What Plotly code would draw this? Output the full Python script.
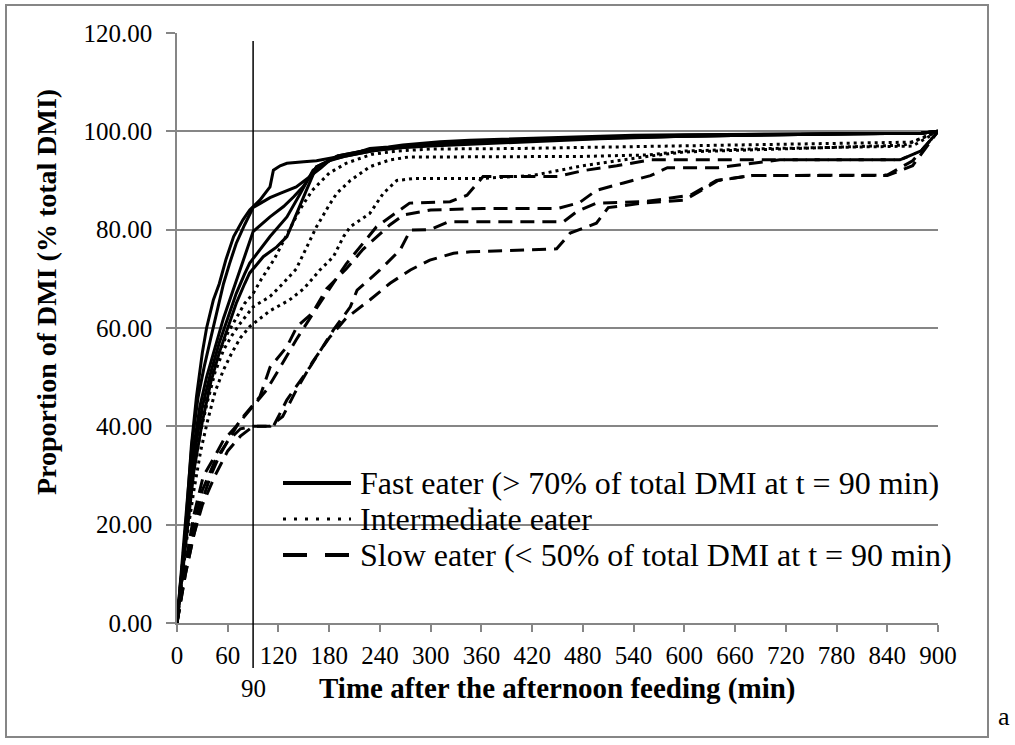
import plotly.graph_objects as go

# ---------------- data ----------------
x_ticks = list(range(0, 901, 60))
y_ticks = [0, 20, 40, 60, 80, 100, 120]
threshold_t = 90

group_names = ["Fast eater (> 70% of total DMI at t = 90 min)",
               "Intermediate eater",
               "Slow eater (< 50% of total DMI at t = 90 min)"]

# Fast eaters (solid)
fast1_t = [0, 4, 8, 12, 17, 23, 30, 35, 43, 50, 58, 67, 78, 86, 98, 110, 114, 122, 130, 150, 165, 189, 210, 228, 250, 267, 290, 311, 346, 400, 450, 500, 540, 600, 700, 800, 880, 900]
fast1_v = [0, 8, 14, 24, 36, 46, 55, 60, 65.7, 69, 74, 78.6, 82, 84, 86, 88.7, 92.1, 93, 93.5, 93.8, 94, 94.8, 95.5, 96.5, 96.8, 97.2, 97.5, 97.9, 98.2, 98.5, 98.8, 99, 99.2, 99.3, 99.4, 99.5, 99.6, 100]
fast2_t = [0, 3, 7, 12, 18, 25, 32, 40, 48, 55, 62, 70, 80, 90, 100, 110, 122, 141, 157, 170, 181, 200, 230, 260, 300, 350, 400, 450, 500, 550, 600, 700, 800, 880, 900]
fast2_v = [0, 6, 14, 25, 37, 46, 52, 58, 64, 69, 73, 77.2, 81, 84.5, 85.5, 86.5, 87.4, 88.7, 90.8, 92.5, 94.2, 95, 96, 96.8, 97.5, 98, 98.3, 98.6, 98.8, 99, 99.2, 99.4, 99.5, 99.6, 100]
fast3_t = [0, 4, 9, 14, 20, 27, 35, 45, 55, 65, 75, 90, 110, 126, 138, 149, 165, 180, 200, 230, 270, 300, 350, 400, 500, 600, 700, 800, 880, 900]
fast3_v = [0, 7, 16, 26, 36, 44, 50, 56, 62, 67, 72, 79.6, 82.6, 84.7, 86.7, 88.7, 92.8, 94, 95, 96, 96.8, 97.3, 97.7, 98, 98.7, 99, 99.3, 99.5, 99.6, 100]
fast4_t = [0, 5, 10, 15, 20, 30, 40, 50, 60, 70, 80, 86, 110, 130, 146, 161, 190, 220, 260, 300, 400, 500, 600, 700, 800, 880, 900]
fast4_v = [0, 9, 18, 27, 34, 44, 51, 57, 62, 67, 71, 73.2, 78.6, 82.6, 87.4, 92.1, 95, 96, 96.7, 97.2, 98, 98.6, 99, 99.3, 99.5, 99.6, 100]
fast5_t = [0, 5, 10, 15, 20, 30, 40, 50, 60, 70, 80, 86, 102, 118, 130, 138, 146, 153, 165, 190, 220, 260, 300, 400, 500, 600, 700, 800, 880, 900]
fast5_v = [0, 8, 16, 24, 31, 41, 49, 55, 60, 65, 69, 71.2, 74.5, 76.5, 78.6, 82, 85.4, 88, 92.8, 95, 96, 96.6, 97, 97.8, 98.5, 99, 99.3, 99.5, 99.6, 100]

# Intermediate eaters (dotted)
inter1_t = [0, 4, 8, 13, 20, 28, 36, 45, 55, 65, 75, 90, 110, 125, 141, 155, 165, 180, 189, 205, 228, 252, 275, 330, 400, 480, 557, 600, 700, 800, 870, 900]
inter1_v = [0, 7, 14, 22, 31, 39, 45, 51, 55.5, 58.5, 61, 64.3, 66.4, 69, 72, 77, 80.6, 85, 87.4, 90, 92.8, 94.2, 94.8, 94.8, 94.8, 94.9, 95.2, 96, 96.5, 96.8, 97, 100]
inter2_t = [0, 4, 8, 13, 20, 28, 36, 45, 55, 65, 75, 86, 110, 133, 150, 169, 185, 197, 205, 228, 244, 260, 280, 358, 420, 449, 480, 520, 560, 600, 700, 800, 860, 900]
inter2_v = [0, 6, 12, 19, 27, 35, 41, 47, 51.5, 55, 58, 60.3, 63.5, 65.7, 68, 71.8, 74.5, 78.6, 80.6, 83.3, 87.4, 90, 90.4, 90.4, 91, 92, 93, 94, 95, 95.8, 96.3, 96.8, 97.2, 100]
inter3_t = [0, 5, 10, 20, 30, 40, 50, 60, 70, 80, 90, 100, 115, 130, 145, 160, 180, 200, 230, 260, 300, 400, 500, 600, 700, 800, 870, 900]
inter3_v = [0, 10, 19, 32, 42, 50, 55, 59, 62, 65, 67, 70, 74, 79, 84, 88, 91.5, 93.5, 95.3, 96, 96.4, 96.5, 96.8, 97, 97.3, 97.6, 97.8, 100]

# Slow eaters (dashed)
slow1_t = [0, 5, 10, 15, 20, 31, 45, 55, 70, 86, 106, 122, 141, 161, 180, 200, 236, 264, 275, 323, 343, 362, 450, 480, 520, 560, 855, 880, 900]
slow1_v = [0, 6, 12, 17, 22, 29.8, 34, 37.2, 40, 43.3, 47.4, 52, 57.6, 63, 68, 73, 80.6, 84, 85.4, 85.7, 87, 90.8, 90.8, 92, 93, 94.2, 94.2, 96, 100]
slow2_t = [0, 5, 10, 20, 30, 40, 50, 60, 75, 90, 114, 130, 157, 185, 205, 213, 240, 264, 276, 299, 321, 457, 473, 496, 551, 579, 607, 638, 678, 840, 870, 900]
slow2_v = [0, 5, 10, 18, 25, 30, 34, 37, 39.5, 40, 40, 45.4, 52, 59.6, 64.3, 67.7, 71.8, 75.9, 79.9, 80, 81.6, 81.6, 83.7, 85.4, 85.7, 86.3, 87, 90, 91, 91.1, 94, 100]
slow3_t = [0, 5, 10, 20, 30, 45, 60, 75, 90, 110, 125, 140, 160, 180, 200, 228, 252, 276, 299, 327, 347, 449, 465, 496, 510, 551, 600, 620, 640, 680, 840, 870, 900]
slow3_v = [0, 5, 10, 18, 24, 30, 35, 38, 40, 40, 42, 47, 53, 58, 62, 65.7, 69.1, 71.8, 73.8, 75.2, 75.5, 76.1, 79.3, 81.3, 84.5, 85.4, 86, 88, 90, 91, 91, 93, 100]
slow4_t = [0, 5, 10, 20, 30, 45, 60, 75, 98, 110, 130, 142, 160, 177, 200, 220, 252, 268, 300, 362, 450, 476, 496, 528, 560, 580, 640, 713, 855, 880, 900]
slow4_v = [0, 6, 11, 20, 27, 33, 37, 41.3, 46, 52, 56.2, 60.3, 63, 68, 72, 76, 81, 83, 84, 84.3, 84.3, 85.5, 88, 89.5, 91, 92.6, 92.6, 94.2, 94.2, 96, 100]

fast_series = [(fast1_t, fast1_v), (fast2_t, fast2_v), (fast3_t, fast3_v), (fast4_t, fast4_v), (fast5_t, fast5_v)]
inter_series = [(inter1_t, inter1_v), (inter2_t, inter2_v), (inter3_t, inter3_v)]
slow_series = [(slow1_t, slow1_v), (slow2_t, slow2_v), (slow3_t, slow3_v), (slow4_t, slow4_v)]

# ---------------- layout helpers (pixel geometry) ----------------
W, H = 1015, 745
PL, PR, PT, PB = 177, 938, 33, 623


def px(xp):
    return (xp - PL) / (PR - PL)


def py(yp):
    return (PB - yp) / (PB - PT)


SERIF = "Liberation Serif, Times New Roman, serif"
GRID = "#868686"

fig = go.Figure()

line_dash = ["solid", "3px,4px", "14px,8px"]
legend_dash = ["solid", "3px,8px", "24px,18px"]
for gi, (series, name) in enumerate(zip([fast_series, inter_series, slow_series], group_names)):
    for si, (t, v) in enumerate(series):
        fig.add_trace(go.Scatter(
            x=t, y=v, mode="lines", name=name, legendgroup=name, showlegend=False,
            line=dict(color="black", width=3, dash=line_dash[gi]),
            hoverinfo="skip"))

# Vertical line at t = 90
fig.add_shape(type="line", xref="x", yref="paper", x0=threshold_t, x1=threshold_t,
              y0=py(668), y1=py(41), line=dict(color="black", width=1.5))

# frame
fig.add_shape(type="rect", xref="paper", yref="paper", x0=px(6), x1=px(988), y0=py(737), y1=py(5),
              line=dict(color=GRID, width=2), layer="below")


def label(x, y, text, size, xref="paper", angle=0, xanchor="center"):
    fig.add_annotation(x=x, xref=xref, y=y, yref="paper", text=text, textangle=angle,
                       xanchor=xanchor, yanchor="middle", showarrow=False,
                       font=dict(family=SERIF, size=size, color="black"))


# legend (key drawn with sample lines + text)
legend_rows_y = [483, 519, 555]
for gi, name in enumerate(group_names):
    yy = py(legend_rows_y[gi])
    fig.add_shape(type="line", xref="paper", yref="paper", x0=px(283), x1=px(351), y0=yy, y1=yy,
                  line=dict(color="black", width=4 if gi != 1 else 3, dash=legend_dash[gi]))
    label(px(358), yy, name, 32, xanchor="left")

label(threshold_t, py(688), str(threshold_t), 25, xref="x")
label(0.5, py(688), "<b>Time after the afternoon feeding (min)</b>", 29)
label(px(46), py(292), "<b>Proportion of DMI (% total DMI)</b>", 28, angle=-90)
label(px(1004), py(716), "a", 26)

fig.update_layout(
    width=W, height=H,
    margin=dict(l=PL, r=W - PR, t=PT, b=H - PB),
    paper_bgcolor="white", plot_bgcolor="white",
    font=dict(family=SERIF, size=25, color="black"),
    showlegend=False,
    xaxis=dict(range=[0, 900], tickvals=x_ticks, ticktext=[str(v) for v in x_ticks],
               showgrid=False, zeroline=False, showline=True, linecolor=GRID, linewidth=1.5,
               ticks="outside", ticklen=7, tickcolor=GRID, tickwidth=1.5, ticklabelstandoff=2,
               tickfont=dict(family=SERIF, size=25, color="black")),
    yaxis=dict(range=[0, 120], tickvals=y_ticks, tickformat=".2f",
               showgrid=True, gridcolor=GRID, gridwidth=1.5, zeroline=False,
               showline=True, linecolor=GRID, linewidth=1.5,
               ticks="outside", ticklen=9, tickcolor=GRID, tickwidth=1.5, ticklabelstandoff=9,
               tickfont=dict(family=SERIF, size=25, color="black")),
)

fig.write_html("out.html", config={"displayModeBar": False},
               post_script="document.body.style.margin='0px';document.body.style.overflow='hidden';")
